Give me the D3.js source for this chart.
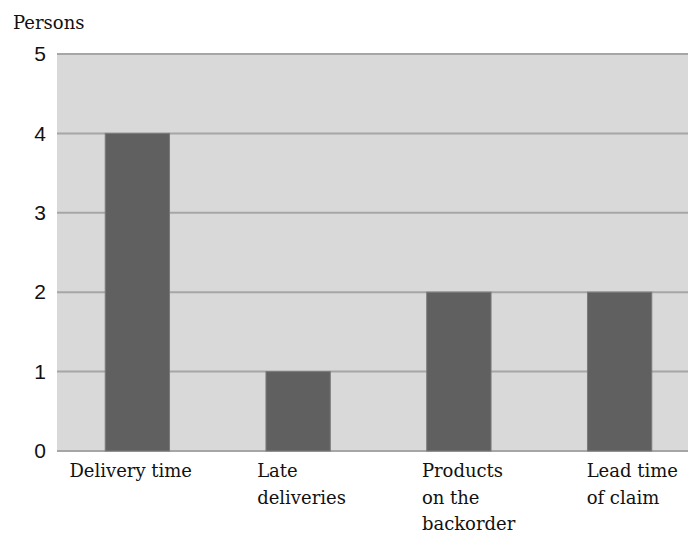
<!DOCTYPE html>
<html>
<head>
<meta charset="utf-8">
<script src="https://cdn.jsdelivr.net/npm/d3@7"></script>
<style>
  html, body { margin: 0; padding: 0; background: #fff; overflow: hidden; }
  svg { display: block; }
</style>
</head>
<body>
<svg id="chart" width="688" height="533"></svg>
<script>
// Survey responses: number of persons naming each issue
const categories = ["Delivery time", "Late deliveries", "Products on the backorder", "Lead time of claim"];
const categoryLines = [["Delivery time"], ["Late", "deliveries"], ["Products", "on the", "backorder"], ["Lead time", "of claim"]];
const persons = [4, 1, 2, 2];
const yTicks = [0, 1, 2, 3, 4, 5];
const yAxisTitle = "Persons";

const svg = d3.select("#chart");
const plot = { left: 57, top: 54, right: 700, bottom: 451 };

const x = d3.scaleBand()
  .domain(categories)
  .range([plot.left, plot.right])
  .paddingInner(0.6)
  .paddingOuter(0.3);

const y = d3.scaleLinear()
  .domain([0, 5])
  .range([plot.bottom, plot.top]);

// plot background
svg.append("rect")
  .attr("x", plot.left)
  .attr("y", plot.top - 1)
  .attr("width", plot.right - plot.left)
  .attr("height", plot.bottom - plot.top + 1)
  .attr("fill", "#d9d9d9");

// horizontal gridlines
svg.append("g")
  .selectAll("line")
  .data(yTicks)
  .join("line")
  .attr("x1", plot.left)
  .attr("x2", plot.right)
  .attr("y1", d => y(d))
  .attr("y2", d => y(d))
  .attr("stroke", "#a6a6a6")
  .attr("stroke-width", 2);

// bars
svg.append("g")
  .selectAll("rect")
  .data(categories)
  .join("rect")
  .attr("x", d => x(d))
  .attr("width", x.bandwidth())
  .attr("y", (d, i) => y(persons[i]))
  .attr("height", (d, i) => y(0) - y(persons[i]))
  .attr("fill", "#606060")
  .attr("stroke", "#7a7a7a")
  .attr("stroke-width", 1);

// y axis tick labels
const yAxis = d3.axisLeft(y).tickValues(yTicks).tickSize(0).tickPadding(0).tickFormat(d3.format("d"));
const yG = svg.append("g")
  .attr("transform", `translate(${46},0)`)
  .call(yAxis);
yG.select(".domain").remove();
yG.selectAll("text")
  .attr("font-family", "'Liberation Sans', Arial, sans-serif")
  .attr("font-size", 21)
  .attr("fill", "#111");

// y axis title
svg.append("text")
  .attr("x", 13)
  .attr("y", 29)
  .attr("font-family", "'DejaVu Serif', serif")
  .attr("font-size", 18)
  .attr("fill", "#111")
  .text(yAxisTitle);

// category labels, left-aligned lines under each bar
const labelShift = [-68, -41, -37, -33];
const lab = svg.append("g")
  .selectAll("text")
  .data(categories)
  .join("text")
  .attr("font-family", "'DejaVu Serif', serif")
  .attr("font-size", 18)
  .attr("fill", "#111")
  .attr("transform", (d, i) => `translate(${x(d) + x.bandwidth() / 2 + labelShift[i]},${477})`);
lab.selectAll("tspan")
  .data((d, i) => categoryLines[i])
  .join("tspan")
  .attr("x", 0)
  .attr("y", (d, j) => j * 26.5)
  .text(d => d);
</script>
</body>
</html>
